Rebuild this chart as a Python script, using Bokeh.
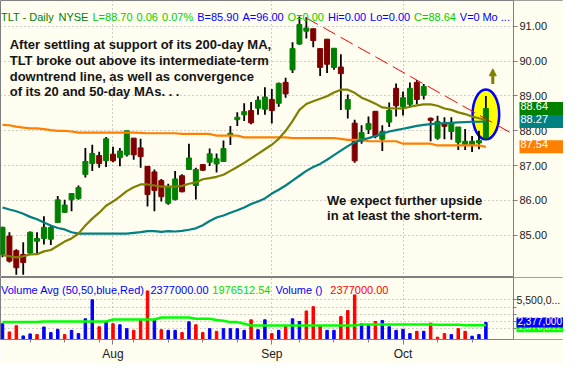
import pandas as pd
from bokeh.plotting import figure
from bokeh.models import (Range1d, FixedTicker, PrintfTickFormatter, Label, Arrow,
                          NormalHead, BoxAnnotation)
from bokeh.layouts import column
from bokeh.embed import file_html
from bokeh.resources import INLINE

# ---------------- data (TLT daily, Jul 10 - Oct 17 2007) ----------------
dates = [d for d in pd.bdate_range("2007-07-10", "2007-10-17") if d != pd.Timestamp("2007-09-03")]

opens = [84.45, 84.98, 84.56, 84.45, 84.49, 84.83, 84.91, 84.89, 85.37, 85.66,
         86.02, 86.06, 86.75, 87.06, 87.29, 87.14, 87.33, 87.23, 87.31, 87.79,
         87.51, 86.98, 86.82, 86.57, 85.92, 86.03, 86.71, 86.89, 86.43, 87.03,
         87.10, 87.05, 87.12, 87.88, 88.32, 88.46, 88.58, 88.65, 88.62, 88.90,
         88.79, 89.39, 89.75, 90.49, 90.86, 90.93, 90.36, 90.63, 89.82, 89.83,
         88.62, 88.22, 87.70, 88.04, 88.56, 87.76, 88.25, 89.22, 88.69, 88.76,
         89.39, 89.02, 88.36, 87.79, 88.21, 87.98, 87.67, 87.60, 87.60, 87.65,
         87.79]
highs = [85.25, 85.09, 84.60, 84.80, 85.11, 85.09, 85.55, 85.28, 86.13, 86.02,
         86.20, 86.43, 87.51, 87.60, 87.40, 87.82, 87.54, 87.51, 88.00, 87.79,
         87.77, 86.98, 86.89, 86.62, 86.48, 86.85, 86.75, 87.63, 86.94, 87.03,
         87.49, 87.35, 87.72, 88.14, 88.53, 88.79, 88.83, 88.99, 89.25, 89.20,
         89.39, 89.52, 90.54, 91.28, 91.26, 90.93, 90.36, 90.63, 90.37, 90.20,
         89.04, 88.32, 88.16, 88.41, 88.56, 88.16, 88.81, 89.36, 89.13, 89.39,
         89.46, 89.34, 88.38, 88.43, 88.39, 88.39, 88.11, 88.05, 87.85, 88.00,
         89.00]
lows = [84.37, 84.22, 83.87, 83.87, 84.45, 84.45, 84.74, 84.72, 85.37, 85.65,
        85.69, 86.02, 86.66, 86.85, 86.94, 86.96, 87.10, 86.98, 87.26, 87.17,
        86.94, 85.83, 85.69, 85.97, 85.88, 86.00, 86.24, 86.89, 86.03, 86.85,
        86.99, 86.80, 87.12, 87.59, 88.14, 88.28, 88.19, 88.46, 88.46, 88.21,
        88.69, 88.95, 89.66, 90.47, 90.65, 90.40, 89.57, 89.66, 89.75, 88.60,
        88.35, 87.08, 87.63, 87.91, 87.79, 87.42, 88.11, 88.41, 88.44, 88.67,
        88.76, 88.90, 87.70, 87.74, 87.76, 87.74, 87.45, 87.45, 87.39, 87.47,
        87.76]
closes = [85.23, 84.26, 84.07, 84.22, 85.09, 84.91, 85.23, 85.23, 86.02, 85.87,
          86.20, 86.37, 87.12, 87.35, 87.06, 87.77, 87.14, 87.42, 88.00, 87.31,
          87.26, 86.17, 86.29, 86.11, 86.38, 86.62, 86.25, 87.22, 86.89, 86.87,
          87.34, 87.20, 87.49, 87.93, 88.39, 88.55, 88.23, 88.88, 88.97, 88.58,
          89.36, 89.06, 90.36, 91.05, 90.95, 90.59, 89.82, 89.91, 90.37, 89.64,
          88.90, 87.14, 87.95, 88.21, 87.84, 87.98, 88.59, 88.72, 88.95, 89.22,
          88.90, 89.27, 88.30, 88.27, 88.13, 88.21, 88.11, 87.70, 87.70, 87.72,
          88.64]

ma20 = [84.43, 84.40, 84.37, 84.40, 84.45, 84.46, 84.54, 84.58, 84.70, 84.82,
        84.91, 85.05, 85.28, 85.48, 85.65, 85.85, 85.97, 86.11, 86.27, 86.38,
        86.46, 86.46, 86.43, 86.40, 86.40, 86.40, 86.42, 86.48, 86.52, 86.61,
        86.64, 86.68, 86.74, 86.85, 86.96, 87.08, 87.21, 87.34, 87.47, 87.60,
        87.77, 88.00, 88.28, 88.60, 88.77, 88.85, 88.92, 88.99, 89.10, 89.18,
        89.18, 89.09, 88.95, 88.87, 88.78, 88.67, 88.65, 88.64, 88.64, 88.69,
        88.73, 88.76, 88.76, 88.72, 88.64, 88.60, 88.53, 88.48, 88.41, 88.36,
        88.32]
ma50 = [85.80, 85.74, 85.69, 85.62, 85.53, 85.46, 85.37, 85.28, 85.21, 85.17,
        85.09, 85.05, 85.05, 85.05, 85.05, 85.05, 85.05, 85.05, 85.05, 85.07,
        85.09, 85.12, 85.12, 85.10, 85.12, 85.11, 85.13, 85.16, 85.20, 85.29,
        85.41, 85.51, 85.57, 85.65, 85.72, 85.80, 85.90, 85.97, 86.06, 86.20,
        86.31, 86.43, 86.57, 86.71, 86.85, 86.96, 87.05, 87.17, 87.30, 87.43,
        87.56, 87.67, 87.74, 87.79, 87.85, 87.92, 87.98, 88.02, 88.06, 88.10,
        88.14, 88.17, 88.19, 88.21, 88.22, 88.23, 88.24, 88.25, 88.26, 88.26,
        88.27]
ma200 = [88.17, 88.16, 88.12, 88.09, 88.07, 88.07, 88.05, 88.02, 88.00, 88.00,
         87.98, 87.95, 87.95, 87.95, 87.95, 87.95, 87.95, 87.95, 87.95, 87.95,
         87.94, 87.93, 87.93, 87.93, 87.93, 87.93, 87.91, 87.91, 87.91, 87.91,
         87.91, 87.86, 87.86, 87.86, 87.86, 87.81, 87.81, 87.81, 87.81, 87.81,
         87.81, 87.81, 87.79, 87.79, 87.79, 87.79, 87.79, 87.79, 87.79, 87.77,
         87.74, 87.74, 87.74, 87.70, 87.70, 87.70, 87.70, 87.70, 87.63, 87.63,
         87.63, 87.63, 87.63, 87.58, 87.58, 87.58, 87.58, 87.58, 87.58, 87.58,
         87.54]

volume_m = [2.19, 1.05, 1.92, 0.50, 0.78, 0.68, 1.74, 0.96, 1.42, 0.68,
            1.28, 0.82, 2.88, 5.53, 1.78, 2.42, 2.19, 2.05, 1.51, 1.28,
            2.65, 6.76, 2.65, 1.37, 1.28, 1.28, 0.96, 2.47, 2.05, 0.96,
            1.51, 1.14, 1.51, 1.51, 1.51, 1.28, 2.74, 1.37, 2.74, 0.82,
            1.28, 1.83, 2.88, 2.51, 3.97, 4.57, 1.92, 1.28, 1.28, 3.20,
            4.02, 6.21, 2.19, 1.96, 2.51, 2.65, 1.78, 1.28, 1.42, 0.82,
            1.14, 1.14, 2.28, 0.32, 0.82, 0.68, 1.51, 1.14, 0.46, 0.68,
            2.377]
volume_avg_m = [2.42, 2.42, 2.42, 2.42, 2.42, 2.42, 2.51, 2.51, 2.51, 2.51,
                2.51, 2.51, 2.51, 2.51, 2.51, 2.51, 2.79, 2.79, 2.79, 2.79,
                2.79, 2.79, 2.79, 3.06, 3.06, 3.06, 3.06, 3.06, 2.88, 2.88,
                2.88, 2.70, 2.62, 2.42, 2.42, 2.19, 1.96, 1.96, 1.96, 1.96,
                1.96, 1.96, 1.96, 1.96, 1.96, 1.96, 1.96, 1.96, 1.96, 1.96,
                1.96, 1.96, 2.10, 2.10, 2.10, 2.10, 2.10, 2.10, 2.10, 2.10,
                2.10, 2.10, 2.10, 2.05, 2.05, 2.05, 2.05, 1.98, 1.98, 1.98,
                1.98]

price_ticks = [85, 86, 87, 88, 89, 90, 91]
volume_ticks = [1500000, 2500000, 3500000, 4500000, 5500000]
volume_tick_labels = ["", "", "", "", "5,500,0..."]

# drawn annotations (bar index, price)
trend_x = [43.9, 73.7]
trend_y = [91.25, 87.93]
circle_x, circle_y, circle_w, circle_h = 70, 88.47, 3.86, 1.43
arrow_x, arrow_y0, arrow_y1 = 71, 89.34, 89.78

last_price, last_ma50, last_ma200 = 88.64, 88.27, 87.54
last_volume, last_volume_avg = 2377000, 1976512.54

# ---------------- derived ----------------
x = list(range(len(dates)))
month_ticks = [i for i in x if i > 0 and dates[i].month != dates[i - 1].month]
month_labels = {i: dates[i].strftime("%b") for i in month_ticks}
week_ticks = [i for i in x if i > 0 and dates[i].weekday() < dates[i - 1].weekday()]
volume = [v * 1e6 for v in volume_m]
volume_avg = [v * 1e6 for v in volume_avg_m]
vol_colors = ["#0000FF" if (i == 0 or closes[i] >= closes[i - 1]) else "#FF0000" for i in x]
body_top = [max(o, c) for o, c in zip(opens, closes)]
body_bot = [min(o, c) for o, c in zip(opens, closes)]
body_col = ["#008000" if c >= o else "#800000" for o, c in zip(opens, closes)]

CREAM = "#FFFCF0"
FONT = "Liberation Sans"
GRID = "#A0A0A0"
AXIS = "#808080"
TXT = "#202020"
OLIVE = "#808000"
TEAL = "#008080"
ORANGE = "#FF8000"

AXIS_AT = 74.0                        # bar-index position of the price scale
PX_PER_BAR = 513 / (AXIS_AT + 0.29)
XR = Range1d(-0.29, AXIS_AT + 50 / PX_PER_BAR)
W = 563


def px_x(px):  # reference pixel column -> bar index
    return (px - 6) / 7.0


def px_price(py):  # reference pixel row -> price
    return 88 - (py - 134.09) / 36.01


def style_axis(a, size="11px"):
    a.major_tick_in = 0
    a.minor_tick_in = 0
    a.major_tick_line_color = AXIS
    a.minor_tick_line_color = AXIS
    a.axis_line_color = AXIS
    a.major_label_text_font = FONT
    a.major_label_text_font_size = size
    a.major_label_text_color = TXT


def style_grid(g):
    g.grid_line_color = GRID
    g.grid_line_dash = "1 3"
    g.grid_line_width = 1


# ---------------- price panel ----------------
p = figure(frame_width=W, frame_height=277, x_range=XR, y_range=Range1d(83.79, 91.74),
           output_backend="svg", toolbar_location=None, x_axis_location=None,
           y_axis_location="right", min_border_left=0, min_border_top=0,
           min_border_bottom=0, min_border_right=0,
           background_fill_color=CREAM, border_fill_color=CREAM,
           outline_line_color=AXIS)

ax = p.yaxis[0]
ax.fixed_location = AXIS_AT
ax.ticker = FixedTicker(ticks=price_ticks)
ax.formatter = PrintfTickFormatter(format="%.2f")
ax.major_tick_out = 4
ax.minor_tick_out = 0
ax.major_label_standoff = 2
style_axis(ax)

p.ygrid.ticker = FixedTicker(ticks=price_ticks)
p.xgrid.ticker = FixedTicker(ticks=month_ticks)
style_grid(p.xgrid)
style_grid(p.ygrid)
p.add_layout(BoxAnnotation(left=AXIS_AT, fill_color=CREAM, fill_alpha=1.0,
                           line_color=None, level="underlay"))

p.ellipse(x=[circle_x], y=[circle_y], width=circle_w, height=circle_h,
          fill_color="#FFFF00", line_color="#0000FF", line_width=2.5)

p.segment(x0=x, y0=lows, x1=x, y1=highs, line_color="black", line_width=1.8)
p.vbar(x=x, width=0.72, top=body_top, bottom=body_bot, fill_color=body_col, line_color=body_col)

p.line(x, ma200, line_color=ORANGE, line_width=2.2)
p.line(x, ma50, line_color=TEAL, line_width=2.2)
p.line(x, ma20, line_color=OLIVE, line_width=2.2)
p.line(trend_x, trend_y, line_color="#FF0000", line_width=1, line_dash="14 6")

p.add_layout(Arrow(end=NormalHead(size=7, fill_color=OLIVE, line_color=OLIVE),
                   x_start=arrow_x, y_start=arrow_y0, x_end=arrow_x, y_end=arrow_y1,
                   line_color=OLIVE, line_width=3))

# header
header = [("TLT - Daily", 4.4, "#008000"), ("NYSE", 62.7, "#008000"),
          ("L=88.70", 97.2, "#00D000"), ("0.06", 141.8, "#00D000"), ("0.07%", 167.7, "#00D000"),
          ("B=85.90", 203.4, "#0000FF"), ("A=96.00", 249.2, "#0000FF"),
          ("O=0.00", 295.0, "#00D000"), ("Hi=0.00", 335.9, "#0000FF"),
          ("Lo=0.00", 378.6, "#0000FF"), ("C=88.64", 423.2, "#00D000"),
          ("V=0", 469.6, "#0000FF"), ("Mo ...", 492.5, "#0000FF")]
for t, hx, col in header:
    p.add_layout(Label(x=px_x(hx), y=px_price(16.6), text=t, text_color=col,
                       text_font=FONT, text_font_size="11px", text_baseline="alphabetic"))

note1 = ["After settling at support of its 200-day MA,",
         "TLT broke out above its intermediate-term",
         "downtrend line, as well as convergence",
         "of its 20 and 50-day MAs. . ."]
for k, t in enumerate(note1):
    p.add_layout(Label(x=px_x(13.3), y=px_price(45.3 + 16.2 * k), text=t, text_color="#141414",
                       text_font=FONT, text_font_size="13px", text_font_style="bold",
                       text_baseline="alphabetic"))
note2 = ["We expect further upside", "in at least the short-term."]
for k, t in enumerate(note2):
    p.add_layout(Label(x=px_x(335), y=px_price(206 + 15.7 * k), text=t, text_color="#141414",
                       text_font=FONT, text_font_size="13px", text_font_style="bold",
                       text_baseline="alphabetic"))

# right-axis value badges
for val, col in ((last_price, "#008000"), (last_ma50, TEAL), (last_ma200, ORANGE)):
    p.add_layout(Label(x=AXIS_AT, y=val, x_offset=6, text=f"{val:.2f}", text_color="white",
                       text_font=FONT, text_font_size="11px", text_baseline="middle",
                       background_fill_color=col, background_fill_alpha=1.0,
                       padding=(1, 16, 0, 5)))

# ---------------- volume panel ----------------
v = figure(frame_width=W, frame_height=62, x_range=XR, y_range=Range1d(0, 8.63e6),
           output_backend="svg", toolbar_location=None, y_axis_location="right",
           min_border_left=0, min_border_top=0, min_border_right=0,
           background_fill_color=CREAM, border_fill_color=CREAM, outline_line_color=AXIS)

vy = v.yaxis[0]
vy.fixed_location = AXIS_AT
vy.ticker = FixedTicker(ticks=volume_ticks)
vy.major_label_overrides = dict(zip(volume_ticks, volume_tick_labels))
vy.major_tick_out = 3
vy.minor_tick_out = 0
vy.major_label_standoff = 0
style_axis(vy, "10.5px")

vx = v.xaxis[0]
vx.ticker = FixedTicker(ticks=month_ticks, minor_ticks=week_ticks)
vx.major_label_overrides = month_labels
vx.bounds = (XR.start, AXIS_AT)
vx.major_tick_out = 5
vx.minor_tick_out = 3
vx.major_label_standoff = 2
style_axis(vx, "12px")

v.ygrid.ticker = FixedTicker(ticks=volume_ticks)
v.xgrid.ticker = FixedTicker(ticks=month_ticks)
style_grid(v.xgrid)
style_grid(v.ygrid)
v.add_layout(BoxAnnotation(left=AXIS_AT, fill_color=CREAM, fill_alpha=1.0,
                           line_color=None, level="underlay"))

v.vbar(x=x, width=0.36, top=volume, bottom=0, fill_color=vol_colors, line_color=vol_colors)
v.line(x, volume_avg, line_color="#00FF00", line_width=2.5)

vol_y_text = 8.63e6 * (351 - 300.7) / 63
legend = [("Volume Avg (50,50,blue,Red)", 4.5, "#0000FF"), ("2377000.00", 156, "#0000FF"),
          ("1976512.54", 218.7, "#00E000"), ("Volume ()", 282.7, "#0000FF"),
          ("2377000.00", 338.3, "#FF0000")]
for t, lx, col in legend:
    v.add_layout(Label(x=px_x(lx), y=vol_y_text, text=t, text_color=col, text_font=FONT,
                       text_font_size="11px", text_baseline="alphabetic"))

v.add_layout(Label(x=AXIS_AT, y=last_volume_avg, x_offset=3, y_offset=-2, text="1,976,512",
                   text_color="white", text_font=FONT, text_font_size="10px",
                   text_baseline="middle", background_fill_color="#00FF00",
                   background_fill_alpha=1.0, padding=(1, 3, 0, 2)))
v.add_layout(Label(x=AXIS_AT, y=last_volume, x_offset=3, text=f"{last_volume:,}",
                   text_color="white", text_font=FONT, text_font_size="10px",
                   text_baseline="middle", background_fill_color="#0000FF",
                   background_fill_alpha=1.0, padding=(1, 3, 0, 2)))

layout = column(p, v, spacing=0)
open("out.html", "w").write(file_html(layout, INLINE))
